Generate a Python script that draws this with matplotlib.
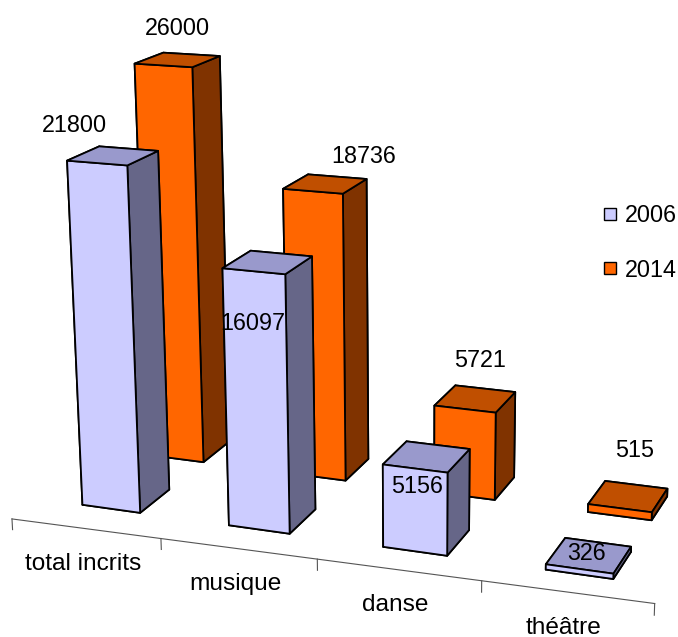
import numpy as np
import matplotlib
matplotlib.use("Agg")
import matplotlib.pyplot as plt
from matplotlib.lines import Line2D
from mpl_toolkits.mplot3d import proj3d

plt.rcParams["font.family"] = ["Liberation Sans", "DejaVu Sans"]

categories = ["total incrits", "musique", "danse", "théâtre"]
values_2006 = [21800, 16097, 5156, 326]
values_2014 = [26000, 18736, 5721, 515]

# decalage des etiquettes en pixels depuis le haut de la barre
offsets_2006 = [(-39, 30), (-15, -61), (-10, -30), (-2, 2)]
offsets_2014 = [(0, 31), (38, 27), (5, 38), (7, 46)]

# couleurs : -z, +z, -y, +y, -x, +x
colors_2006 = ["#9999CC", "#9999CC", "#CCCCFF", "#CCCCFF", "#666688", "#666688"]
colors_2014 = ["#C04F00", "#C04F00", "#FF6600", "#FF6600", "#803300", "#803300"]

W = 0.4
ROW = 0.9
FS = 16.8

fig = plt.figure(figsize=(6.78, 6.37), dpi=100)
# axes 3d toujours carres : on deborde pour ne pas couper a gauche/droite
ax = fig.add_axes([0, 0.004, 1, 1.064], projection="3d", computed_zorder=False)
ax.set_xlim(-0.84, 3.46)
ax.set_ylim(-0.3, 1.3)
ax.set_zlim(0, 27000)
ax.set_box_aspect((4.1, 1.6, 2.6), zoom=1.25)
ax.view_init(elev=16, azim=-69, roll=0.5)
ax.set_proj_type("persp", focal_length=0.6)
ax.set_axis_off()

x = np.arange(len(categories))
M = ax.get_proj()
zo = 1
for row, vals, cols, offs in [(ROW, values_2014, colors_2014, offsets_2014),
                              (0, values_2006, colors_2006, offsets_2006)]:
    for i, v in enumerate(vals):
        ax.bar3d(x[i] - W / 2, row - W / 2, 0, W, W, v, color=cols, shade=False,
                 edgecolor="black", linewidth=1.3, zorder=zo)
        zo += 1
        px, py, _ = proj3d.proj_transform(x[i], row, v, M)
        ax.annotate(str(v), xy=(px, py), xytext=offs[i], textcoords="offset pixels",
                    fontsize=FS, ha="center", va="center", zorder=50)

# axe des categories, legerement de biais par rapport aux barres
x_ticks = np.arange(-0.5, 3.6, 1)
y_ticks = np.linspace(-0.54, -0.44, len(x_ticks))
ax.plot(x_ticks, y_ticks, np.zeros(len(x_ticks)), color="#555555", lw=0.8, zorder=0)
for t, y0 in zip(x_ticks, y_ticks):
    ax.plot([t, t], [y0, y0], [0, -700], color="#555555", lw=0.8, zorder=0)
for i, c in enumerate(categories):
    px, py, _ = proj3d.proj_transform(x[i] - 0.02, (y_ticks[i] + y_ticks[i + 1]) / 2, 0, M)
    ax.annotate(c, xy=(px, py), xytext=(0, -36), textcoords="offset pixels",
                fontsize=17.6, ha="center", va="center", zorder=50)

handles = [Line2D([], [], marker="s", ls="", mfc="#CCCCFF", mec="black", ms=9, label="2006"),
           Line2D([], [], marker="s", ls="", mfc="#FF6600", mec="black", ms=9, label="2014")]
fig.legend(handles=handles, loc="upper left", bbox_to_anchor=(0.866, 0.698), frameon=False,
           fontsize=FS, handletextpad=0.1, handlelength=1.0, labelspacing=1.35, borderpad=0)

fig.savefig("out.png", dpi=100)
